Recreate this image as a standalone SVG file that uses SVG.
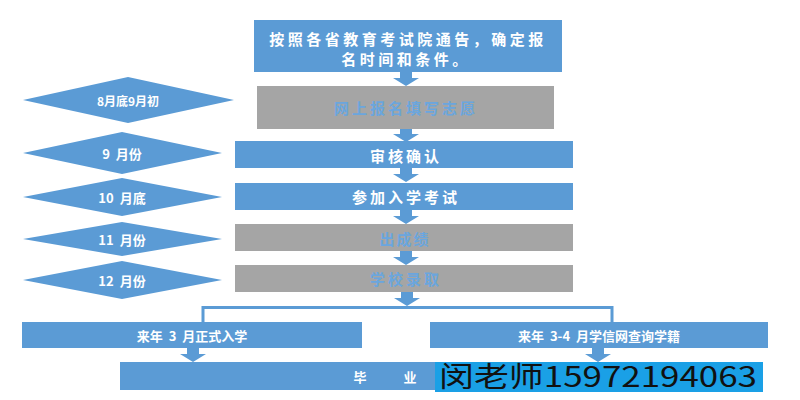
<svg xmlns="http://www.w3.org/2000/svg" width="800" height="400" viewBox="0 0 800 400">
<defs>
<style>
.blue{fill:#5b9bd5}
.gray{fill:#a5a5a5}
.t{font-family:"Noto Sans CJK SC","Noto Sans",sans-serif;font-weight:bold;text-anchor:middle;dominant-baseline:central}
.w{fill:#ffffff}
.lb{fill:#6aa6de}
.ln{stroke:#5b9bd5;stroke-width:3;fill:none}
.ov{font-family:"Noto Sans CJK SC","Noto Sans",sans-serif;fill:#111111}
</style>
<path id="arr" d="M-6,0 H6 V6 H13 L0,14 L-13,6 H-6 Z" fill="#5b9bd5"/>
</defs>
<rect width="800" height="400" fill="#ffffff"/>

<g id="connectors">
<use href="#arr" x="406" y="72"/>
<use href="#arr" x="406" y="128"/>
<use href="#arr" x="406" y="168"/>
<use href="#arr" x="406" y="210"/>
<use href="#arr" x="406" y="251"/>
<use href="#arr" x="407" y="292"/>
<polyline class="ln" points="203,322 203,307.5 612,307.5 612,322"/>
<use href="#arr" x="193" y="348"/>
<use href="#arr" x="598" y="348"/>
</g>

<g id="n_notice">
<rect class="blue" x="254" y="20" width="308" height="52"/>
<text class="t w" x="408" y="38" font-size="15" letter-spacing="3.5">按照各省教育考试院通告，确定报</text>
<text class="t w" x="406" y="58" font-size="15" letter-spacing="3.5">名时间和条件。</text>
</g>

<g id="n_online">
<rect class="gray" x="257" y="86" width="297" height="43"/>
<text class="t lb" x="406" y="107" font-size="15" letter-spacing="3">网上报名填写志愿</text>
</g>

<g id="n_review">
<rect class="blue" x="235" y="141" width="338" height="27"/>
<text class="t w" x="406" y="155" font-size="15" letter-spacing="3">审核确认</text>
</g>

<g id="n_exam">
<rect class="blue" x="235" y="183" width="338" height="27"/>
<text class="t w" x="406" y="196" font-size="15" letter-spacing="3">参加入学考试</text>
</g>

<g id="n_score">
<rect class="gray" x="235" y="224" width="338" height="27"/>
<text class="t lb" x="405" y="238" font-size="15" letter-spacing="2">出成绩</text>
</g>

<g id="n_admit">
<rect class="gray" x="235" y="265" width="338" height="27"/>
<text class="t lb" x="406" y="278" font-size="15" letter-spacing="3">学校录取</text>
</g>

<g id="d_aug">
<polygon class="blue" points="23,100 128,77 234,100 128,123"/>
<text class="t w" x="128" y="100" font-size="12" font-weight="normal">8月底9月初</text>
</g>
<g id="d_sep">
<polygon class="blue" points="23,153 122,132 222,153 122,174"/>
<text class="t w" x="122" y="153" font-size="13" word-spacing="3">9 月份</text>
</g>
<g id="d_oct">
<polygon class="blue" points="23,197 122,178 222,197 122,216"/>
<text class="t w" x="122" y="197" font-size="13" word-spacing="3">10 月底</text>
</g>
<g id="d_nov">
<polygon class="blue" points="23,239 122,222 222,239 122,256"/>
<text class="t w" x="122" y="239" font-size="13" word-spacing="3">11 月份</text>
</g>
<g id="d_dec">
<polygon class="blue" points="23,280 122,261 222,280 122,299"/>
<text class="t w" x="122" y="280" font-size="13" word-spacing="3">12 月份</text>
</g>

<g id="n_enroll">
<rect class="blue" x="22" y="322" width="340" height="26"/>
<text class="t w" x="192" y="335" font-size="13" word-spacing="3">来年 3 月正式入学</text>
</g>

<g id="n_xuexin">
<rect class="blue" x="430" y="322" width="338" height="26"/>
<text class="t w" x="599" y="335" font-size="13" word-spacing="3">来年 3-4 月学信网查询学籍</text>
</g>

<g id="n_grad">
<rect class="blue" x="120" y="362" width="560" height="28"/>
<text class="t w" x="360" y="376" font-size="13">毕</text>
<text class="t w" x="410" y="376" font-size="13">业</text>
</g>

<g id="overlay">
<rect x="435" y="362" width="328" height="30" fill="#1aa0e6"/>
<text class="ov" x="439" y="387" font-size="28" textLength="318" lengthAdjust="spacingAndGlyphs">闵老师15972194063</text>
</g>
</svg>
